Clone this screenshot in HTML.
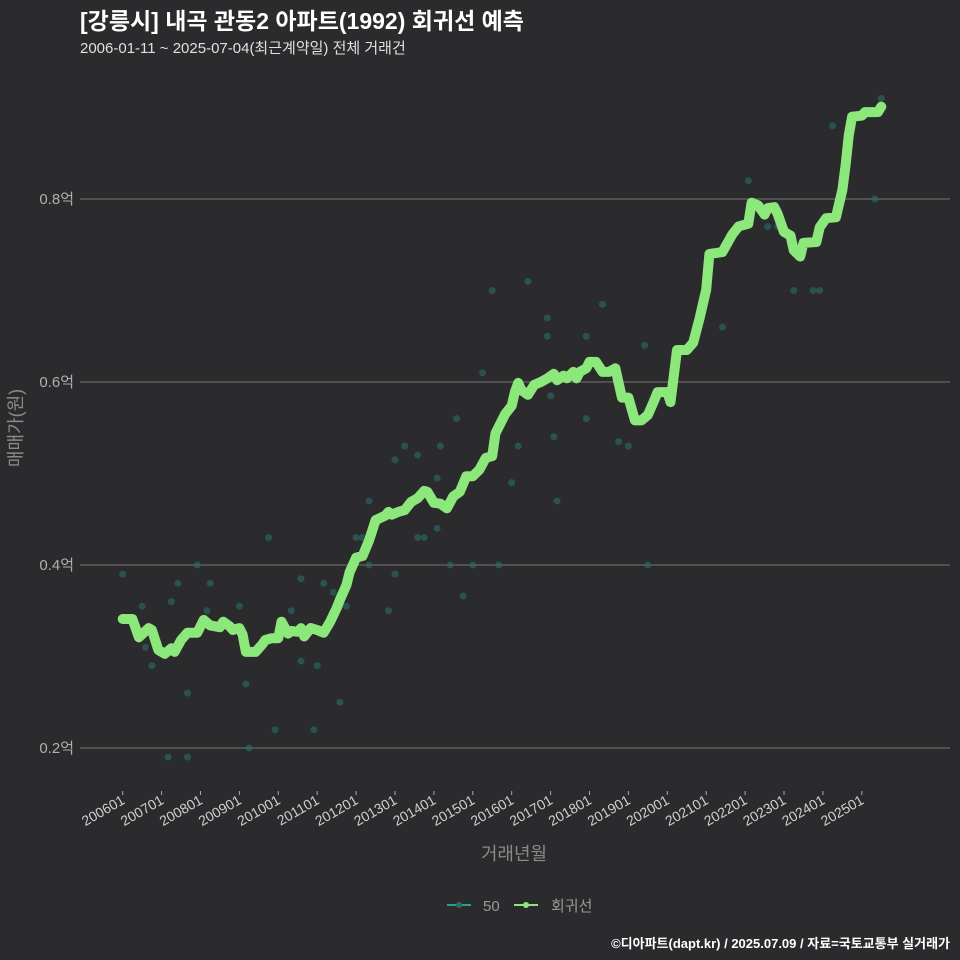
<!DOCTYPE html>
<html><head><meta charset="utf-8">
<style>
body{margin:0;background:#2b2a2d;}
svg{display:block;font-family:"Liberation Sans","Noto Sans CJK KR",sans-serif;}
</style></head>
<body>
<svg id="chart" width="960" height="960" viewBox="0 0 960 960">
<rect width="960" height="960" fill="#2b2a2d"/>
<text x="80" y="29" fill="#ffffff" font-size="23" font-weight="bold">[강릉시] 내곡 관동2 아파트(1992) 회귀선 예측</text>
<text x="80" y="53" fill="#e0e0e0" font-size="15">2006-01-11 ~ 2025-07-04(최근계약일) 전체 거래건</text>
<g id="grid"></g>
<g id="xaxis"></g>
<g id="dots"></g>
<g id="line"></g>
<text transform="translate(22,428) rotate(-90)" text-anchor="middle" fill="#8a8a8a" font-size="18">매매가(원)</text>
<text x="514" y="860" text-anchor="middle" fill="#8a8a8a" font-size="18">거래년월</text>
<g>
<g>
<line x1="447" y1="905" x2="471" y2="905" stroke="#2a9d8f" stroke-width="2"/>
<circle cx="459" cy="905" r="3" fill="#2a6e68"/>
<text x="483" y="911" fill="#9a9a9a" font-size="15">50</text>
</g>
<g>
<line x1="514" y1="905" x2="538" y2="905" stroke="#8ce87a" stroke-width="2"/>
<circle cx="526" cy="905" r="3" fill="#8ce87a"/>
<text x="551" y="911" fill="#9a9a9a" font-size="15">회귀선</text>
</g>
</g>
<text x="950" y="948" text-anchor="end" fill="#ffffff" font-size="13" font-weight="bold">©디아파트(dapt.kr) / 2025.07.09 / 자료=국토교통부 실거래가</text>
</svg>
<script>
// months since 2006-01
const lineMonths=[0,3,5,8,9,11,13,15,16,18,20,23,25,27,30,31,33,34,36,37,38,41,43,44,46,48,49,51,52,54,55,56,58,60,62,64,66,67,69,70,72,74,76,78,81,82,83,85,87,89,91,93,94,96,98,100,102,104,106,108,110,112,114,115,118,120,121,122,123,125,127,129,131,133,134,136,137,139,140,141,143,144,146,148,150,152,154,156,158,160,162,164,165,168,169,171,174,176,178,180,181,185,188,190,193,194,196,198,199,201,202,204,206,207,209,210,214,215,217,220,222,223,224,225,228,229,233,234];
const lineValues=[0.341,0.341,0.321,0.331,0.329,0.307,0.303,0.309,0.305,0.318,0.326,0.326,0.340,0.334,0.332,0.338,0.333,0.329,0.331,0.324,0.305,0.305,0.313,0.318,0.320,0.320,0.338,0.325,0.328,0.327,0.331,0.322,0.331,0.329,0.326,0.338,0.353,0.362,0.378,0.392,0.408,0.410,0.427,0.449,0.454,0.458,0.455,0.458,0.460,0.469,0.473,0.481,0.480,0.468,0.467,0.462,0.475,0.480,0.497,0.497,0.504,0.517,0.519,0.544,0.565,0.574,0.589,0.599,0.591,0.586,0.597,0.600,0.604,0.609,0.602,0.607,0.604,0.611,0.604,0.611,0.615,0.622,0.622,0.611,0.611,0.615,0.583,0.583,0.558,0.558,0.564,0.580,0.589,0.589,0.578,0.635,0.635,0.643,0.670,0.701,0.740,0.742,0.761,0.770,0.773,0.796,0.793,0.783,0.790,0.791,0.784,0.764,0.760,0.744,0.737,0.752,0.753,0.769,0.779,0.780,0.810,0.837,0.870,0.890,0.891,0.895,0.895,0.901];
const dotMonths=[0,6,7,9,14,15,17,20,20,23,26,27,36,38,39,45,47,52,55,55,59,60,62,65,67,69,72,74,76,76,82,84,84,87,91,91,93,97,97,98,101,103,105,108,111,114,116,120,122,125,131,131,133,134,132,143,143,148,153,156,161,162,181,185,193,199,202,207,213,215,219,232,234];
const dotValues=[0.39,0.355,0.31,0.29,0.19,0.36,0.38,0.19,0.26,0.40,0.35,0.38,0.355,0.27,0.20,0.43,0.22,0.35,0.295,0.385,0.22,0.29,0.38,0.37,0.25,0.355,0.43,0.43,0.47,0.40,0.35,0.39,0.515,0.53,0.52,0.43,0.43,0.44,0.495,0.53,0.40,0.56,0.366,0.40,0.61,0.70,0.40,0.49,0.53,0.71,0.67,0.65,0.54,0.47,0.585,0.65,0.56,0.685,0.535,0.53,0.64,0.40,0.73,0.66,0.82,0.77,0.77,0.70,0.70,0.70,0.88,0.80,0.91];
const yTicks=[0.2,0.4,0.6,0.8];
const yTickLabels=["0.2억","0.4억","0.6억","0.8억"];
const xTickLabels=["200601","200701","200801","200901","201001","201101","201201","201301","201401","201501","201601","201701","201801","201901","202001","202101","202201","202301","202401","202501"];

const NS="http://www.w3.org/2000/svg";
const X=m=>122.7+m*38.9/12;
const Y=v=>748-(v-0.2)/0.2*183;
function mk(t,a,p){const e=document.createElementNS(NS,t);for(const k in a)e.setAttribute(k,a[k]);p.appendChild(e);return e;}
const grid=document.getElementById('grid');
yTicks.forEach((v,i)=>{
  const l=mk('line',{x1:80,x2:950,y1:Y(v),y2:Y(v),stroke:'#5c5c5c','stroke-width':1.5},grid);
  
  
  const t=mk('text',{x:74,y:Y(v)+5,'text-anchor':'end',fill:'#b0b0b0','font-size':15},grid);
  t.textContent=yTickLabels[i];
  
  
});
const xa=document.getElementById('xaxis');
xTickLabels.forEach((s,i)=>{
  const x=X(i*12);
  const l=mk('line',{x1:x,x2:x,y1:791,y2:795,stroke:'#aaa','stroke-width':1},xa);
  
  
  const t=mk('text',{transform:`translate(${x+3},${803}) rotate(-30)`,'text-anchor':'end',fill:'#cfcfcf','font-size':14},xa);
  t.textContent=s;
  
  
});
const dg=document.getElementById('dots');
dotMonths.forEach((m,i)=>{
  const c=mk('circle',{cx:X(m),cy:Y(dotValues[i]),r:3.5,fill:'#2a6e68','fill-opacity':0.6},dg);
  
  
});
const pts=lineMonths.map((m,i)=>X(m).toFixed(1)+','+Y(lineValues[i]).toFixed(1)).join(' ');
const pl=mk('polyline',{points:pts,fill:'none',stroke:'#8ce87a','stroke-width':10,'stroke-linejoin':'round','stroke-linecap':'round'},document.getElementById('line'));


</script>
</body></html>
